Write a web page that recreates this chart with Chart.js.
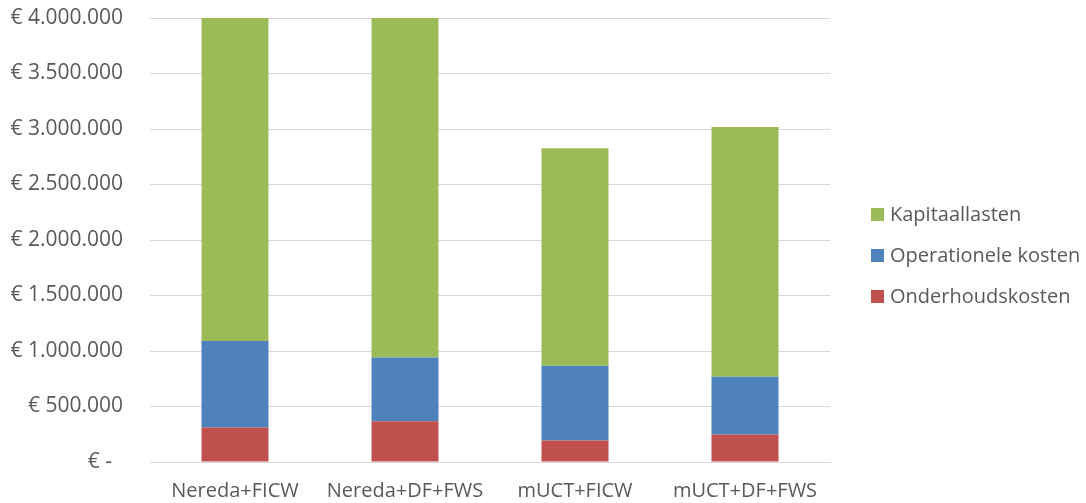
<!DOCTYPE html>
<html>
<head>
<meta charset="utf-8">
<script src="https://cdn.jsdelivr.net/npm/chart.js@4/dist/chart.umd.min.js"></script>
<style>
  html, body { margin: 0; padding: 0; background: #ffffff; }
  #wrap { width: 1086px; height: 503px; }
</style>
</head>
<body>
<div id="wrap"><canvas id="c" width="1086" height="503"></canvas></div>
<script>
// Varianten en kostenposten (euro)
const categories = ['Nereda+FICW', 'Nereda+DF+FWS', 'mUCT+FICW', 'mUCT+DF+FWS'];
const onderhoudskosten = [310000, 367000, 193000, 247000];
const operationeleKosten = [780000, 575000, 673000, 520000];
const kapitaallasten = [2910000, 3058000, 1961000, 2250000];

// As-labels van de y-as
const yTickValues = [0, 500000, 1000000, 1500000, 2000000, 2500000, 3000000, 3500000, 4000000];
const yTickLabels = ['€ -  ', '€ 500.000', '€ 1.000.000', '€ 1.500.000', '€ 2.000.000',
                     '€ 2.500.000', '€ 3.000.000', '€ 3.500.000', '€ 4.000.000'];

const FONT = "'Open Sans', 'Noto Sans', sans-serif";
const TEXT = '#595959';
const GRID = '#d9d9d9';

// Legenda rechts naast het plotgebied, bovenste stapel eerst
const sideLegend = {
  id: 'sideLegend',
  afterDraw(chart) {
    const { ctx, chartArea } = chart;
    const items = chart.data.datasets.map(d => ({ text: d.label, color: d.backgroundColor })).reverse();
    const rowGap = 41;
    const boxSize = 13;
    const boxX = chartArea.right + 41;
    const textX = boxX + boxSize + 6;
    const midY = (chartArea.top + chartArea.bottom) / 2 + 15.5;
    const startY = midY - rowGap * (items.length - 1) / 2;
    ctx.save();
    ctx.font = '20px ' + FONT;
    ctx.textBaseline = 'middle';
    ctx.textAlign = 'left';
    items.forEach((it, i) => {
      const y = startY + i * rowGap;
      ctx.fillStyle = it.color;
      ctx.fillRect(boxX, Math.round(y - boxSize / 2), boxSize, boxSize);
      ctx.fillStyle = TEXT;
      ctx.fillText(it.text, textX, y + 1);
    });
    ctx.restore();
  }
};

new Chart(document.getElementById('c'), {
  type: 'bar',
  data: {
    labels: categories,
    datasets: [
      { label: 'Onderhoudskosten', data: onderhoudskosten, backgroundColor: '#C0504D' },
      { label: 'Operationele kosten', data: operationeleKosten, backgroundColor: '#4F81BD' },
      { label: 'Kapitaallasten', data: kapitaallasten, backgroundColor: '#9BBB59' }
    ]
  },
  options: {
    responsive: false,
    animation: false,
    layout: { padding: { top: 18, right: 256, bottom: 0, left: 0 } },
    datasets: { bar: { categoryPercentage: 1, barPercentage: 0.394, borderWidth: 0 } },
    plugins: {
      legend: { display: false },
      tooltip: { enabled: false }
    },
    scales: {
      x: {
        stacked: true,
        grid: { display: false, drawTicks: false },
        border: { display: true, color: GRID, width: 1 },
        ticks: { color: TEXT, font: { family: FONT, size: 20 }, padding: 17, maxRotation: 0 },
        afterFit(scale) { scale.height = 41; scale.paddingLeft = 0; scale.paddingRight = 0; }
      },
      y: {
        stacked: true,
        min: 0,
        max: 4000000,
        grid: { color: GRID, lineWidth: 1, drawTicks: false },
        border: { display: false },
        afterBuildTicks(scale) { scale.ticks = yTickValues.map(v => ({ value: v })); },
        ticks: {
          color: TEXT,
          font: { family: FONT, size: 21 },
          padding: 27,
          callback(value) {
            const i = yTickValues.indexOf(value);
            return i >= 0 ? yTickLabels[i] : '';
          }
        },
        afterFit(scale) { scale.width = 150; scale.paddingTop = 0; scale.paddingBottom = 0; }
      }
    }
  },
  plugins: [sideLegend]
});
</script>
</body>
</html>
